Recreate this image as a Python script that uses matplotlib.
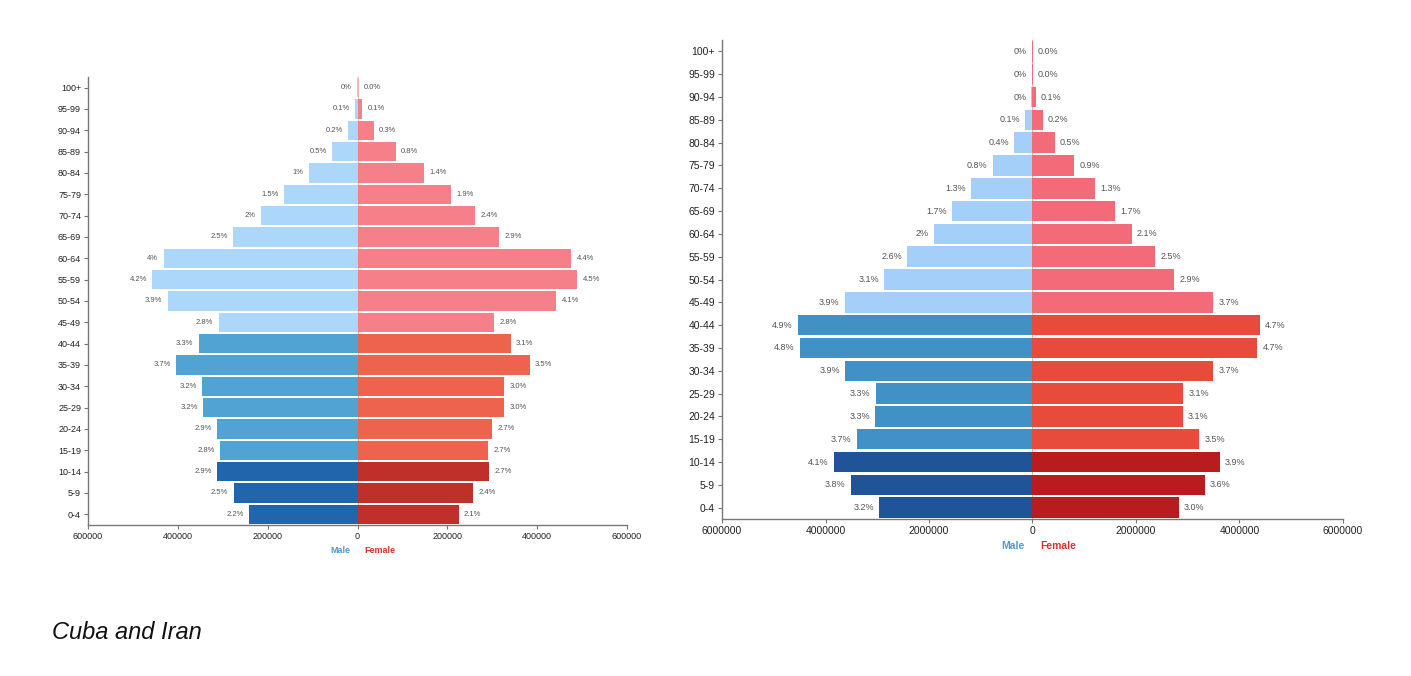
import numpy as np
import matplotlib
matplotlib.use("Agg")
import matplotlib.pyplot as plt

plt.rcParams['font.family'] = ['Liberation Sans', 'DejaVu Sans']

# age groups, bottom to top
ages = ["0-4", "5-9", "10-14", "15-19", "20-24", "25-29", "30-34", "35-39",
        "40-44", "45-49", "50-54", "55-59", "60-64", "65-69", "70-74",
        "75-79", "80-84", "85-89", "90-94", "95-99", "100+"]

# Cuba
cuba_male = [241000, 276000, 313000, 306000, 313000, 343000, 346000, 404000,
             354000, 309000, 423000, 457000, 432000, 277000, 215000,
             163000, 108000, 57000, 20400, 5100, 1000]
cuba_female = [225000, 257000, 293000, 291000, 300000, 326000, 326000, 383000,
               341000, 304000, 442000, 489000, 476000, 315000, 262000,
               208000, 148000, 85200, 35800, 11000, 2000]
cuba_male_pct = ["2.2%", "2.5%", "2.9%", "2.8%", "2.9%", "3.2%", "3.2%", "3.7%",
                 "3.3%", "2.8%", "3.9%", "4.2%", "4%", "2.5%", "2%",
                 "1.5%", "1%", "0.5%", "0.2%", "0.1%", "0%"]
cuba_female_pct = ["2.1%", "2.4%", "2.7%", "2.7%", "2.7%", "3.0%", "3.0%", "3.5%",
                   "3.1%", "2.8%", "4.1%", "4.5%", "4.4%", "2.9%", "2.4%",
                   "1.9%", "1.4%", "0.8%", "0.3%", "0.1%", "0.0%"]

# Iran
iran_male = [2962000, 3515000, 3841000, 3397000, 3038000, 3029000, 3615000, 4494000,
             4535000, 3632000, 2870000, 2418000, 1908000, 1556000, 1180000,
             770000, 351000, 142000, 20000, 5000, 2000]
iran_female = [2828000, 3330000, 3615000, 3222000, 2904000, 2912000, 3489000, 4343000,
               4393000, 3489000, 2736000, 2368000, 1916000, 1590000, 1205000,
               803000, 427000, 201000, 58600, 8000, 3000]
iran_male_pct = ["3.2%", "3.8%", "4.1%", "3.7%", "3.3%", "3.3%", "3.9%", "4.8%",
                 "4.9%", "3.9%", "3.1%", "2.6%", "2%", "1.7%", "1.3%",
                 "0.8%", "0.4%", "0.1%", "0%", "0%", "0%"]
iran_female_pct = ["3.0%", "3.6%", "3.9%", "3.5%", "3.1%", "3.1%", "3.7%", "4.7%",
                   "4.7%", "3.7%", "2.9%", "2.5%", "2.1%", "1.7%", "1.3%",
                   "0.9%", "0.5%", "0.2%", "0.1%", "0.0%", "0.0%"]

cuba_ticks = [-600000, -400000, -200000, 0, 200000, 400000, 600000]
iran_ticks = [-6000000, -4000000, -2000000, 0, 2000000, 4000000, 6000000]


def tier(i):
    if i < 3:
        return 0
    if i < 9:
        return 1
    return 2


def pyramid(ax, male, female, mpct, fpct, ticks, mcols, fcols, fs, lfs, gap):
    y = np.arange(len(ages))
    male = np.array(male)
    female = np.array(female)
    mc = [mcols[tier(i)] for i in y]
    fc = [fcols[tier(i)] for i in y]
    ax.barh(y, -male, height=0.9, color=mc, linewidth=0)
    ax.barh(y, female, height=0.9, color=fc, linewidth=0)
    ax.axvline(0, color="#f4a0a8", lw=0.6, zorder=0)
    for i in y:
        ax.text(-male[i] - gap, i, mpct[i], ha="right", va="center",
                fontsize=fs, color="#555555")
        ax.text(female[i] + gap, i, fpct[i], ha="left", va="center",
                fontsize=fs, color="#555555")
    ax.set_xlim(ticks[0], ticks[-1])
    ax.set_ylim(-0.5, len(ages) - 0.5)
    ax.set_yticks(y)
    ax.set_yticklabels(ages, fontsize=lfs, color="#222222")
    ax.set_xticks(ticks)
    ax.set_xticklabels([str(abs(t)) for t in ticks], fontsize=lfs, color="#222222")
    for s in ["top", "right"]:
        ax.spines[s].set_visible(False)
    for s in ["left", "bottom"]:
        ax.spines[s].set_color("#777777")
        ax.spines[s].set_linewidth(1.0)
    ax.tick_params(axis="both", length=3, width=0.8, color="#777777", pad=2)
    xm = ticks[-1]
    ax.text(-0.025 * xm, -1.7, "Male", ha="right", va="center", fontsize=lfs,
            fontweight="bold", color="#4a9ad4")
    ax.text(0.025 * xm, -1.7, "Female", ha="left", va="center", fontsize=lfs,
            fontweight="bold", color="#d9322b")


fig = plt.figure(figsize=(14.11, 6.76), dpi=100)

ax1 = fig.add_axes([0.0624, 0.2234, 0.382, 0.6627])
pyramid(ax1, cuba_male, cuba_female, cuba_male_pct, cuba_female_pct, cuba_ticks,
        ["#2166ac", "#50a3d3", "#acd6fa"], ["#c0302a", "#ee634e", "#f68089"],
        5.5, 6.5, 12000)

ax2 = fig.add_axes([0.5117, 0.2322, 0.4401, 0.7086])
pyramid(ax2, iran_male, iran_female, iran_male_pct, iran_female_pct, iran_ticks,
        ["#1f5598", "#4190c6", "#a3cff9"], ["#b81c1e", "#e64b3c", "#f36b78"],
        6.5, 7.5, 100000)

fig.text(0.037, 0.065, "Cuba and Iran", fontsize=17, style="italic",
         color="#111111", va="center", ha="left")

fig.savefig("out.png", dpi=100)
